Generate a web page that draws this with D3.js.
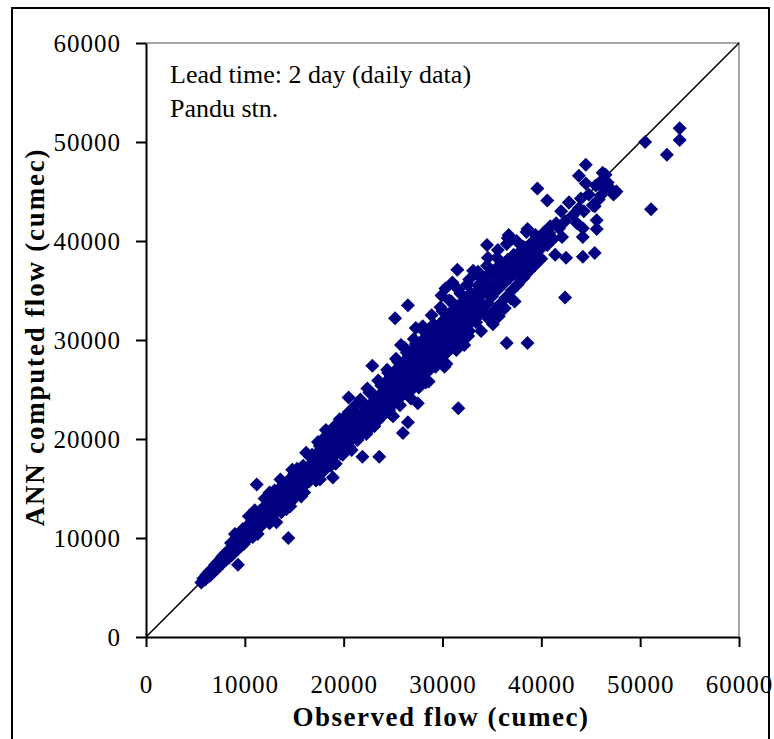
<!DOCTYPE html>
<html>
<head>
<meta charset="utf-8">
<script src="https://cdn.jsdelivr.net/npm/d3@7"></script>
<style>
  body { margin: 0; background: #fff; }
  svg { display: block; font-family: "Liberation Serif", "Times New Roman", serif; }
</style>
</head>
<body>
<div id="chart"></div>
<script>
// observed vs ANN computed flow (cumec), pairs [observed, computed]
const lowFlows = [
  [5600, 5500], [5800, 5900], [6000, 5800], [6100, 6300], [6300, 6100], [6400, 6600], [6500, 6200],
  [6600, 6400], [6700, 6900], [6900, 6700], [7000, 7300], [7100, 7100], [7200, 6900], [7300, 7600],
  [7500, 7300], [7600, 7900], [7700, 8100], [7800, 7500], [7900, 8300], [8000, 8100], [8100, 7800],
  [8200, 8600], [8300, 8400], [8400, 8000], [8500, 8900], [8700, 8300], [8800, 9300], [8900, 8900],
  [9000, 8600], [9100, 9600], [9300, 8900], [9400, 10000], [9500, 9600], [9600, 9200], [9700, 10300],
  [9900, 9400], [10000, 10700], [8600, 9500], [9200, 10200], [9800, 10900], [9600, 10000], [8800, 9000],
  [9000, 10400]
];

const midLowFlows = [
  [10200, 9800], [10300, 11200], [10400, 10600], [10500, 10300], [10600, 11600], [10700, 11100],
  [10800, 10100], [10900, 11900], [11000, 11400], [11000, 12800], [11100, 10700], [11200, 12300],
  [11300, 10400], [11400, 11000], [11500, 12700], [11600, 11900], [11700, 11300], [11800, 13000],
  [11900, 12100], [12000, 11600], [12000, 14000], [12100, 12500], [12200, 12900], [12300, 11800],
  [12400, 13500], [12500, 11500], [12600, 12100], [12700, 13200], [12800, 12800], [12900, 12400],
  [13000, 14000], [13000, 14800], [13100, 13300], [13200, 12700], [13300, 13600], [13400, 13900],
  [13500, 12900], [13600, 14500], [13700, 12600], [13800, 13300], [13900, 14100], [14000, 14300],
  [14000, 15500], [14100, 13600], [14200, 15000], [14300, 14400], [14400, 13800], [14500, 14700],
  [14600, 15000], [14700, 14100], [14800, 15600], [14900, 13900], [15000, 14400], [15000, 16500],
  [15100, 15200], [15200, 15500], [15300, 14700], [15400, 16000], [15500, 15800], [15600, 15000],
  [15700, 15600], [15800, 15900], [15900, 15300], [16000, 16500], [12600, 14300], [13800, 15300],
  [15300, 17000], [14200, 12900], [15700, 14200], [11800, 12600], [12400, 12100], [13300, 14600],
  [13900, 13400], [14700, 15300], [15400, 14800], [11300, 11800], [10800, 11500], [12900, 13700],
  [14400, 15800], [15900, 16100], [10600, 10800], [10400, 12200], [12500, 14600], [13600, 15900],
  [14800, 16900], [13200, 11600], [14600, 13200], [16000, 14600]
];

const midFlows = [
  [16100, 15400], [16200, 16900], [16400, 15800], [16500, 17300], [16600, 18200], [16700, 16100],
  [16800, 17000], [16900, 16600], [17000, 16300], [17100, 17900], [17200, 15800], [17300, 16700],
  [17400, 17600], [17500, 18800], [17600, 17000], [17700, 18500], [17900, 17200], [18000, 18200],
  [18100, 18000], [18200, 17500], [18300, 19100], [18400, 19800], [18500, 17900], [18600, 18700],
  [18700, 17300], [18800, 18100], [18900, 19700], [19100, 18400], [19200, 19300], [19300, 20800],
  [19400, 18700], [19500, 20300], [19600, 19500], [19700, 19000], [19800, 19900], [19900, 18400],
  [20000, 19300], [20100, 20900], [20200, 21800], [20300, 19600], [20400, 20500], [20600, 19800],
  [20700, 21500], [20800, 20700], [20900, 20200], [21000, 21100], [21100, 22600], [21200, 20400],
  [21300, 22100], [21400, 19900], [21500, 20800], [21600, 21700], [21800, 21000], [21900, 22700],
  [22000, 23600], [22100, 21300], [22200, 22300], [22300, 22200], [22400, 21600], [22500, 23300],
  [22600, 21000], [22700, 21900], [22800, 22900], [22900, 24600], [23000, 22100], [23100, 23900],
  [23200, 23100], [23300, 22500], [23400, 23500], [23500, 21900], [23600, 22800], [23700, 24500],
  [23800, 25400], [23900, 23100], [24000, 24100], [19000, 21200], [21700, 24000], [17800, 19900],
  [20500, 22700], [22400, 25100]
];

const midFill = [
  [16300, 16200], [16900, 17600], [17300, 18100], [17800, 17700], [18300, 17800], [18700, 19100],
  [19100, 19900], [19500, 19100], [19900, 20600], [20200, 19900], [20600, 21200], [21000, 20500],
  [21400, 22500], [21800, 21800], [22200, 22900], [22600, 22400], [23000, 23700], [23400, 22900],
  [23800, 24200], [21400, 20100], [20600, 19200], [19700, 18500], [18900, 17600], [18000, 16800],
  [17200, 16300], [16500, 15700], [22300, 20500], [23100, 21300], [23900, 22300], [22600, 24700],
  [23500, 25900], [21200, 23400], [20300, 22400], [19400, 21300], [18500, 20500], [17600, 19300],
  [16800, 18400], [15900, 17300], [16200, 18600], [17400, 19700], [18200, 20900], [19600, 22000],
  [17600, 15900], [19200, 17500], [20800, 18900]
];

const upperMidFlows = [
  [24200, 23000], [24300, 25800], [24400, 27000], [24500, 24200], [24600, 22900], [24700, 25300],
  [24800, 26300], [24900, 24800], [25000, 22300], [25100, 23600], [25200, 26900], [25300, 28100],
  [25400, 25000], [25500, 24000], [25600, 26300], [25700, 27300], [25800, 25600], [26000, 24500],
  [26000, 26800], [26100, 27800], [26200, 29200], [26300, 26100], [26400, 25000], [26500, 27400],
  [26600, 28400], [26700, 26500], [26800, 24100], [26900, 25400], [27000, 29000], [27100, 30100],
  [27200, 27000], [27300, 25800], [27400, 28300], [27500, 29400], [27600, 27300], [27700, 28600],
  [27800, 26300], [27900, 29900], [28000, 31400], [28100, 27900], [28200, 26600], [28300, 29100],
  [28400, 30300], [28500, 28200], [28600, 25800], [28700, 27000], [28800, 30800], [28900, 32500],
  [28900, 29700], [29000, 28900], [29100, 27500], [29200, 30000], [29300, 31200], [29400, 29100],
  [29500, 30400], [29600, 28000], [29700, 31600], [29800, 33300], [29900, 29600], [30000, 28400],
  [30100, 30900], [30200, 32100], [30300, 30100], [30400, 27600], [30500, 28800], [30600, 32600],
  [30700, 34000], [30800, 30500], [30900, 29200], [31000, 31800], [31100, 33000], [31200, 31000],
  [31300, 32200], [31400, 29700], [31500, 33400], [31600, 35100], [31700, 31400], [31800, 30100],
  [31900, 32600], [32000, 33800], [32100, 31900], [32200, 29500], [32300, 30600], [32400, 34300],
  [32500, 35600], [32600, 32200], [32700, 30900], [32800, 33500], [32900, 34700], [33000, 32700],
  [27300, 31200], [29900, 34500], [31000, 35800], [25800, 29500], [30300, 35200]
];

const upperMidFill = [
  [24100, 24900], [24400, 23600], [24700, 26100], [25000, 25500], [25300, 24600], [25600, 27100],
  [25900, 26200], [26200, 25500], [26500, 26700], [26800, 27900], [27100, 26400], [27400, 27600],
  [27700, 29200], [28000, 28500], [28300, 27700], [28600, 29600], [28900, 28300], [29200, 30800],
  [29500, 29300], [29800, 30200], [30100, 29100], [30400, 31500], [30700, 30000], [31000, 32500],
  [31300, 30800], [31600, 32300], [31900, 31200], [32200, 33100], [32500, 32800], [32800, 31700],
  [32600, 30400], [31400, 29000], [30200, 27300], [29300, 27300], [28300, 25700], [27600, 25200],
  [26700, 24800], [25700, 23400], [24800, 22500], [24500, 26700], [25500, 27800], [26400, 28700],
  [27300, 29600], [28200, 30800], [29100, 31600], [30000, 32900], [30900, 33900], [31800, 34700],
  [32700, 36100]
];

const highFlows = [
  [33200, 34000], [33400, 31800], [33500, 36700], [33600, 35500], [33800, 33200], [33900, 30900],
  [34000, 36200], [34200, 32800], [34400, 35000], [34500, 37500], [34600, 33700], [34800, 36800],
  [35000, 34400], [35100, 31600], [35200, 32900], [35400, 37200], [35500, 38300], [35600, 35100],
  [35800, 33600], [36000, 37800], [36200, 35700], [36300, 33200], [36400, 34300], [36500, 39700],
  [36600, 38100], [36800, 36300], [37000, 35000], [37200, 38600], [37300, 33900], [37400, 36900],
  [37500, 40000], [37600, 35600], [37800, 38900], [38000, 37400], [38200, 36300], [38400, 39300],
  [38500, 40900], [38600, 38000], [38800, 37000], [39000, 39800], [39200, 38500], [39400, 37600],
  [39600, 40300], [39800, 39100], [40000, 38200], [40000, 40400], [40300, 40900], [40600, 39600],
  [40900, 41500], [41200, 40200], [41400, 38600], [41500, 41800], [41800, 41300], [42000, 43000],
  [42100, 40400], [42400, 42000], [42500, 38300], [42800, 43900], [43200, 42600], [43600, 41800],
  [43800, 43300], [44000, 44300], [44200, 41300], [44300, 43000], [44500, 45800], [44800, 44700],
  [45200, 43600], [45400, 43500], [45500, 45600], [45600, 41200], [45800, 44200], [46000, 44600],
  [46100, 46100], [46400, 45200], [46500, 46700], [46700, 45900], [47000, 45300], [47300, 44700],
  [47600, 45000]
];

const highFill = [
  [33100, 33600], [33400, 34800], [33700, 34300], [34000, 33500], [34300, 35900], [34600, 34800],
  [34900, 35600], [35200, 34900], [35500, 36400], [35800, 35600], [36100, 36800], [36400, 36100],
  [36700, 37400], [37000, 37500], [37300, 36700], [37600, 38300], [37900, 37900], [38200, 39400],
  [38500, 38700], [38800, 39600], [39100, 39000], [39400, 40600], [39700, 39600], [40200, 40100],
  [40800, 40800], [36900, 34200], [35700, 32400], [34700, 32100], [33700, 32500], [33600, 36900],
  [34600, 38300], [35600, 39100], [36600, 40300]
];

const outliers = [
  [54000, 51400], [54000, 50200], [50500, 50000], [52700, 48700], [51100, 43200], [44500, 47700],
  [43800, 46600], [46200, 46900], [40600, 44100], [42800, 43900], [39600, 45300], [36700, 40600],
  [34500, 39600], [38600, 41200], [42400, 34300], [44200, 38400], [45400, 38800], [44200, 40400],
  [45600, 42100], [31600, 23100], [20500, 24200], [22900, 27400], [25200, 32200], [26500, 33500],
  [26000, 20600], [26500, 21700], [23600, 18200], [21900, 18200], [27500, 23600], [11200, 15400],
  [14400, 10000], [18900, 16100], [9300, 7300], [31500, 37100], [33100, 37000], [38600, 29700],
  [36500, 29700]
];

const tickValues = [0, 10000, 20000, 30000, 40000, 50000, 60000];
const xTitle = 'Observed flow (cumec)';
const yTitle = 'ANN computed flow (cumec)';
const notes = ['Lead time: 2 day (daily data)', 'Pandu stn.'];

const width = 774;
const height = 739;
const margin = { top: 43, right: 35, bottom: 102, left: 146 };

const points = [].concat(lowFlows, midLowFlows, midFlows, midFill, upperMidFlows, upperMidFill,
    highFlows, highFill, outliers);

const xScale = d3.scaleLinear()
    .domain([0, 60000])
    .range([margin.left, width - margin.right]);

const yScale = d3.scaleLinear()
    .domain([0, 60000])
    .range([height - margin.bottom, margin.top]);

const svg = d3.select('#chart').append('svg')
    .attr('width', width)
    .attr('height', height);

// outer frame
svg.append('rect')
    .attr('x', 12)
    .attr('y', 8)
    .attr('width', 757)
    .attr('height', 760)
    .attr('fill', 'none')
    .attr('stroke', '#000')
    .attr('stroke-width', 2);

// grey top / right edges of the plot area
svg.append('path')
    .attr('d', `M${xScale(0)},${yScale(60000)}H${xScale(60000)}V${yScale(0)}`)
    .attr('fill', 'none')
    .attr('stroke', '#888')
    .attr('stroke-width', 1.5);

// 1:1 line
svg.append('line')
    .attr('x1', xScale(0))
    .attr('y1', yScale(0))
    .attr('x2', xScale(60000))
    .attr('y2', yScale(60000))
    .attr('stroke', '#000')
    .attr('stroke-width', 1.5);

const diamond = d3.symbol().type(d3.symbolSquare).size(98);

svg.append('g')
    .selectAll('path')
    .data(points)
    .enter()
    .append('path')
    .attr('d', diamond)
    .attr('transform', d => `translate(${xScale(d[0])},${yScale(d[1])}) rotate(45)`)
    .attr('fill', '#000080');

const xAxis = d3.axisBottom(xScale)
    .tickValues(tickValues)
    .tickFormat(d3.format('d'))
    .tickSize(10)
    .tickSizeOuter(0)
    .tickPadding(28);

const yAxis = d3.axisLeft(yScale)
    .tickValues(tickValues)
    .tickFormat(d3.format('d'))
    .tickSize(10)
    .tickSizeOuter(0)
    .tickPadding(15);

const gx = svg.append('g')
    .attr('transform', `translate(0,${height - margin.bottom})`)
    .call(xAxis);

const gy = svg.append('g')
    .attr('transform', `translate(${margin.left},0)`)
    .call(yAxis);

[gx, gy].forEach(g => {
    g.select('.domain').attr('stroke', '#000').attr('stroke-width', 2);
    g.selectAll('.tick line').attr('stroke', '#000').attr('stroke-width', 2);
    g.selectAll('.tick text')
        .attr('fill', '#000')
        .style('font-family', '"Liberation Serif", serif')
        .style('font-size', '25px')
        .style('letter-spacing', '1px');
});

// axis titles
svg.append('text')
    .attr('x', 441)
    .attr('y', 726)
    .attr('text-anchor', 'middle')
    .style('font-size', '27px')
    .style('font-weight', 'bold')
    .style('letter-spacing', '1.5px')
    .text(xTitle);

svg.append('text')
    .attr('transform', 'translate(44,337) rotate(-90)')
    .attr('text-anchor', 'middle')
    .style('font-size', '27px')
    .style('font-weight', 'bold')
    .style('letter-spacing', '1.8px')
    .text(yTitle);

svg.selectAll('.note')
    .data(notes)
    .enter()
    .append('text')
    .attr('class', 'note')
    .attr('x', 170)
    .attr('y', (d, i) => 83 + i * 34)
    .style('font-size', '26px')
    .text(d => d);
</script>
</body>
</html>
